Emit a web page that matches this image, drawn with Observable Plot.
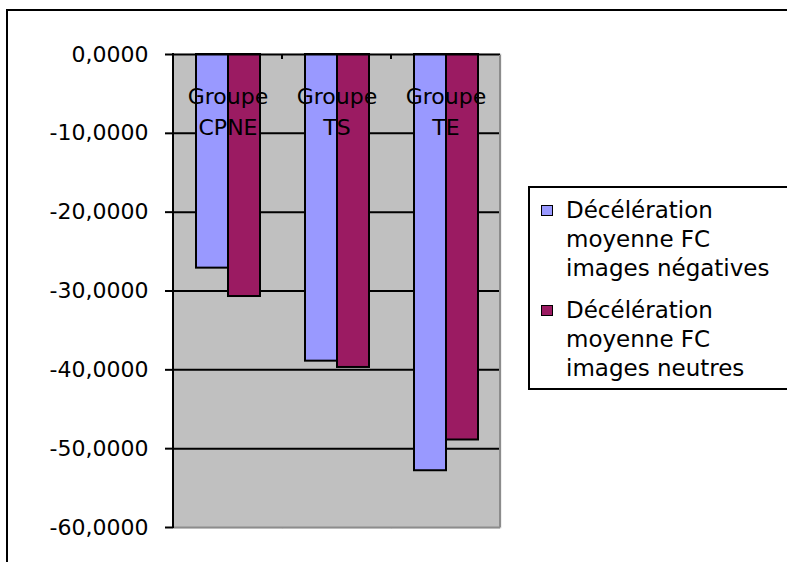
<!DOCTYPE html>
<html>
<head>
<meta charset="utf-8">
<script src="https://cdn.jsdelivr.net/npm/d3@7"></script>
<script src="https://cdn.jsdelivr.net/npm/@observablehq/plot@0.6"></script>
<style>
  html, body { margin: 0; padding: 0; background: #fff; }
  #wrap { position: relative; width: 787px; height: 562px; overflow: hidden; font-family: "DejaVu Sans", sans-serif; }
  #border { position: absolute; left: 6px; top: 9px; width: 820px; height: 620px; border: 2px solid #000; box-sizing: border-box; }
  #chart { position: absolute; left: 0; top: 0; }
  #legend { position: absolute; left: 528px; top: 186px; width: 300px; height: 204px; border: 2px solid #000; box-sizing: border-box; background: #fff; }
  .item { position: absolute; left: 36px; font-size: 23px; line-height: 29px; white-space: pre-line; color: #000; }
  .sw { position: absolute; left: 11px; width: 10px; height: 9px; border: 1.5px solid #000; }
</style>
</head>
<body>
<div id="wrap">
  <div id="border"></div>
  <div id="chart"></div>
  <div id="legend"></div>
</div>
<script>
// ---- data ----
const categories = ["Groupe CPNE", "Groupe TS", "Groupe TE"];
const seriesNames = [
  "Décélération moyenne FC images négatives",
  "Décélération moyenne FC images neutres"
];
const valuesNegatives = [-27.1, -38.9, -52.8];
const valuesNeutres = [-30.7, -39.7, -48.9];
const seriesColors = ["#9999FF", "#9B1B62"];
const yTicks = [0, -10, -20, -30, -40, -50, -60];

const seriesValues = [valuesNegatives, valuesNeutres];
const data = [];
categories.forEach((c, i) => {
  seriesNames.forEach((s, j) => data.push({group: c, series: s, value: seriesValues[j][i]}));
});
const fmt = d => d.toFixed(4).replace(".", ",");

const chart = Plot.plot({
  width: 787,
  height: 562,
  marginLeft: 173,
  marginRight: 287,
  marginTop: 54,
  marginBottom: 35,
  style: {fontFamily: "DejaVu Sans", fontSize: "22px", background: "transparent", color: "#000", overflow: "visible"},
  fx: {domain: categories, padding: 0, axis: null},
  x: {domain: seriesNames, paddingInner: 0, paddingOuter: 0.68, axis: null},
  y: {domain: [-60, 0], axis: null},
  color: {domain: seriesNames, range: seriesColors},
  marks: [
    Plot.frame({fill: "#C0C0C0", stroke: "#C0C0C0", strokeWidth: 1.5}),
    Plot.ruleY(yTicks.filter(t => t !== 0 && t !== -60), {stroke: "#000", strokeWidth: 2}),
    Plot.barY(data, {fx: "group", x: "series", y: "value", fill: "series", stroke: "#000", strokeWidth: 2}),
    Plot.ruleY([-60], {stroke: "#8C8C8C", strokeWidth: 2}),
    Plot.ruleY([0], {stroke: "#000", strokeWidth: 2}),
    Plot.axisY({ticks: yTicks, tickSize: 8, tickPadding: 17, tickFormat: fmt, fontSize: 22, stroke: "#000", strokeWidth: 2, label: null}),
    Plot.text(categories, {fx: d => d, text: d => d.replace(" ", "\n"), frameAnchor: "top", lineAnchor: "top", dy: 27, lineHeight: 1.41, fontSize: 22, fill: "#000"})
  ]
});
document.getElementById("chart").appendChild(chart);

// decorations using the library's scales
const fx = chart.scale("fx");
const ys = chart.scale("y");
const svg = d3.select(chart);
const y0 = ys.apply(0), yMin = ys.apply(-60);
categories.slice(1).forEach(c => {
  const x = fx.apply(c);
  svg.append("line").attr("x1", x).attr("x2", x).attr("y1", y0).attr("y2", y0 + 5)
    .attr("stroke", "#000").attr("stroke-width", 2);
});
const xl = fx.apply(categories[0]);
svg.append("line").attr("x1", xl).attr("x2", xl).attr("y1", y0 - 1).attr("y2", yMin + 1)
  .attr("stroke", "#000").attr("stroke-width", 2);
const xr = fx.apply(categories[categories.length - 1]) + fx.bandwidth;
svg.append("line").attr("x1", xr).attr("x2", xr).attr("y1", y0 + 1).attr("y2", yMin)
  .attr("stroke", "#8C8C8C").attr("stroke-width", 2);

// legend
const legend = document.getElementById("legend");
const tops = [8, 108];
seriesNames.forEach((name, i) => {
  const sw = document.createElement("div");
  sw.className = "sw";
  sw.style.top = (tops[i] + 9) + "px";
  sw.style.background = seriesColors[i];
  legend.appendChild(sw);
  const t = document.createElement("div");
  t.className = "item";
  t.style.top = tops[i] + "px";
  t.textContent = name.replace(" moyenne", "\nmoyenne").replace(" images", "\nimages");
  legend.appendChild(t);
});
</script>
</body>
</html>
